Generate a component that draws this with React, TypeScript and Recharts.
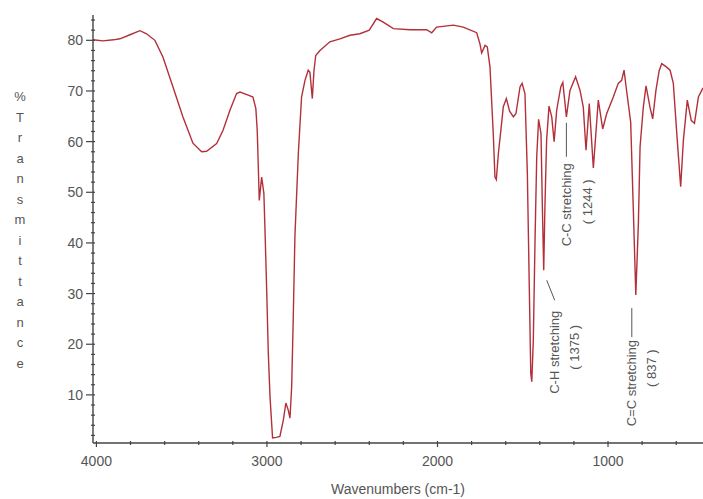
import { LineChart, Line, XAxis, YAxis, ReferenceDot } from 'recharts';

// IR spectrum
const wavenumbers = [
  4020, 3962, 3900, 3862, 3803, 3745, 3706, 3657, 3610, 3551, 3493, 3434, 3383, 3354, 3295, 3258,
  3217, 3178, 3158, 3110, 3082, 3065, 3057, 3048, 3045, 3031, 3018, 3012, 3002, 2992, 2982, 2967,
  2945, 2924, 2904, 2889, 2875, 2865, 2855, 2846, 2836, 2816, 2797, 2777, 2758, 2748, 2734, 2724,
  2714, 2689, 2631, 2572, 2513, 2455, 2400, 2357, 2318, 2259, 2161, 2063, 2034, 2005, 1907, 1849,
  1770, 1751, 1741, 1721, 1708, 1692, 1673, 1663, 1655, 1643, 1624, 1614, 1596, 1577, 1555, 1540,
  1516, 1504, 1487, 1473, 1463, 1453, 1447, 1438, 1428, 1418, 1407, 1393, 1385, 1377, 1370, 1360,
  1346, 1330, 1316, 1301, 1277, 1265, 1244, 1223, 1190, 1164, 1145, 1129, 1110, 1086, 1057, 1031,
  1008, 969, 940, 920, 906, 890, 867, 852, 837, 822, 812, 793, 777, 754, 738, 719,
  700, 685, 660, 636, 617, 594, 574, 558, 535, 512, 493, 470, 443,
];
const transmittance = [
  80.1, 79.9, 80.1, 80.3, 81.1, 81.9, 81.3, 80.0, 76.7, 70.8, 64.9, 59.7, 58.0, 58.1, 59.6, 62.2,
  66.2, 69.5, 69.8, 69.2, 68.8, 66.5, 62.2, 52.0, 48.4, 53.0, 49.8, 43.2, 31.3, 18.2, 9.6, 1.5,
  1.6, 1.8, 5.0, 8.4, 7.0, 5.4, 11.6, 24.8, 41.2, 57.6, 68.8, 72.1, 74.1, 73.7, 68.5, 74.1,
  77.0, 78.0, 79.7, 80.3, 81.0, 81.3, 82.0, 84.3, 83.6, 82.3, 82.1, 82.1, 81.5, 82.6, 83.0, 82.6,
  81.5, 79.3, 77.5, 79.0, 78.7, 74.7, 61.6, 53.0, 52.5, 57.6, 63.6, 66.9, 68.5, 66.0, 64.9, 65.5,
  70.8, 71.5, 69.5, 53.7, 34.0, 14.3, 12.6, 20.8, 40.5, 57.0, 64.4, 61.6, 47.1, 34.6, 47.1, 60.3,
  67.0, 64.9, 60.0, 66.2, 70.8, 71.7, 64.9, 70.1, 72.8, 70.1, 66.8, 58.3, 67.5, 54.8, 68.2, 62.5,
  65.5, 68.8, 71.5, 72.1, 74.1, 69.8, 63.8, 47.1, 29.7, 43.8, 59.0, 66.8, 71.0, 66.8, 64.5, 70.1,
  74.0, 75.4, 74.8, 74.1, 71.5, 60.3, 51.1, 60.3, 68.2, 64.2, 63.6, 68.8, 70.6,
];

const xTicks = [4000, 3800, 3600, 3400, 3200, 3000, 2800, 2600, 2400, 2200, 2000, 1800, 1600, 1400, 1200, 1000, 800, 600];
const xTickLabels = [4000, 3000, 2000, 1000];
const yTicks = [2, 4, 6, 8, 10, 12, 14, 16, 18, 20, 22, 24, 26, 28, 30, 32, 34, 36, 38, 40, 42, 44, 46, 48, 50, 52, 54, 56, 58, 60, 62, 64, 66, 68, 70, 72, 74, 76, 78, 80, 82, 84];
const yTickLabels = [10, 20, 30, 40, 50, 60, 70, 80];

const xTitle = 'Wavenumbers (cm-1)';
const yTitle = '%Transmittance';

const bandNames = ['C-H stretching', 'C-C stretching', 'C=C stretching'];
const bandLabels = ['( 1375 )', '( 1244 )', '( 837 )'];
const bandWavenumbers = [1377, 1244, 837];
const bandTransmittance = [34.6, 64.9, 29.7];

const data = wavenumbers.map((wn, i) => ({ wn, t: transmittance[i] }));

const FONT = '"Liberation Sans", Arial, sans-serif';
const TEXT = '#555';
const AXIS = '#444';

const XTick = ({ x, y, payload }: any) => {
  const major = xTickLabels.includes(payload.value);
  return (
    <g>
      <line x1={x} x2={x} y1={y - 2} y2={y + (major ? 4 : 2)} stroke={AXIS} strokeWidth={1.2} />
      {major && (
        <text x={x} y={y + 18} textAnchor="middle" dominantBaseline="central" fontFamily={FONT} fontSize={14} fill={TEXT}>
          {payload.value}
        </text>
      )}
    </g>
  );
};

const YTick = ({ x, y, payload }: any) => {
  const major = yTickLabels.includes(payload.value);
  return (
    <g>
      <line x1={major ? x - 7 : x - 2} x2={x + 2} y1={y} y2={y} stroke={AXIS} strokeWidth={1.2} />
      {major && (
        <text x={x - 10} y={y} textAnchor="end" dominantBaseline="central" fontFamily={FONT} fontSize={14} fill={TEXT}>
          {payload.value}
        </text>
      )}
    </g>
  );
};

const vText = (x: number, y: number, s: string) => (
  <text
    x={x}
    y={y}
    transform={`rotate(-90 ${x} ${y})`}
    textAnchor="middle"
    dominantBaseline="central"
    fontFamily={FONT}
    fontSize={13}
    fill={TEXT}
  >
    {s}
  </text>
);

// offsets of each annotation from its band's minimum
const annoLayout = [
  { line: [3, 10, 11, 30], text: [11, 82], band: [31, 77] },
  { line: [0, 6, 0, 40], text: [0, 88], band: [21, 85] },
  { line: [-4, 13, -4, 42], text: [-4, 88], band: [16, 73] },
];

const makeAnno = (i: number) => (props: any) => {
  const vb = props.viewBox;
  const cx = vb.x + vb.width / 2;
  const cy = vb.y + vb.height / 2;
  const L = annoLayout[i];
  return (
    <g>
      <line x1={cx + L.line[0]} y1={cy + L.line[1]} x2={cx + L.line[2]} y2={cy + L.line[3]} stroke={TEXT} strokeWidth={1} />
      {vText(cx + L.text[0], cy + L.text[1], bandNames[i])}
      {vText(cx + L.band[0], cy + L.band[1], bandLabels[i])}
    </g>
  );
};

const YTitle = (props: any) => {
  const vb = props.viewBox;
  const letters = yTitle.split('');
  return (
    <text fontFamily={FONT} fontSize={13} fill={TEXT} textAnchor="middle">
      {letters.map((c, i) => (
        <tspan key={i} x={vb.x + 20} y={vb.y + 86 + i * 20.5}>
          {c}
        </tspan>
      ))}
    </text>
  );
};

const XTitle = (props: any) => {
  const vb = props.viewBox;
  return (
    <text x={vb.x + vb.width / 2} y={vb.y + 46} textAnchor="middle" dominantBaseline="central" fontFamily={FONT} fontSize={14} fill={TEXT}>
      {xTitle}
    </text>
  );
};

export default function App() {
  return (
    <div style={{ position: 'absolute', left: 0, top: 0, width: 703, height: 499, background: '#fff' }}>
      <LineChart width={703} height={499} data={data} margin={{ top: 15, right: 0, bottom: 0, left: 0 }}>
        <XAxis
          dataKey="wn"
          type="number"
          domain={[443, 4020]}
          reversed
          allowDataOverflow
          ticks={xTicks}
          interval={0}
          tick={<XTick />}
          tickLine={false}
          tickSize={0}
          tickMargin={0}
          height={56}
          axisLine={{ stroke: AXIS, strokeWidth: 1.4 }}
          label={XTitle}
        />
        <YAxis
          type="number"
          domain={[0.5, 85]}
          allowDataOverflow
          ticks={yTicks}
          interval={0}
          tick={<YTick />}
          tickLine={false}
          tickSize={0}
          tickMargin={0}
          width={93}
          axisLine={{ stroke: AXIS, strokeWidth: 1.4 }}
          label={YTitle}
        />
        <Line
          type="linear"
          dataKey="t"
          stroke="#b3303a"
          strokeWidth={1.4}
          dot={false}
          isAnimationActive={false}
        />
        {bandNames.map((n, i) => (
          <ReferenceDot
            key={n}
            x={bandWavenumbers[i]}
            y={bandTransmittance[i]}
            r={1}
            fill="none"
            stroke="none"
            label={makeAnno(i)}
          />
        ))}
      </LineChart>
    </div>
  );
}
